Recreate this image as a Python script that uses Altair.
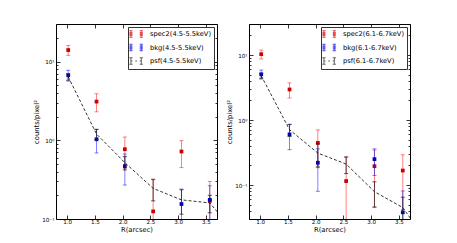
import altair as alt
import pandas as pd

# ---------------- data ----------------
X = [1.02, 1.53, 2.04, 2.55, 3.06, 3.57]
X_PSF = [1.02, 1.53, 2.04, 2.55, 3.06, 3.57, 4.08]
X_TICKS = [1.0, 1.5, 2.0, 2.5, 3.0, 3.5]

L_BAND = "4.5-5.5keV"
L_SPEC2 = [14.0, 3.1, 0.77, 0.125, 0.72, 0.17]
L_SPEC2_ERR = [2.0, 0.8, 0.33, 0.19, 0.27, 0.13]
L_BKG = [6.7, 1.03, 0.47, None, 0.155, 0.175]
L_BKG_ERR = [1.05, 0.34, 0.2, None, 0.085, 0.09]
L_PSF = [6.4, 1.2, 0.52, 0.245, 0.175, 0.16, 0.06]
L_PSF_ERR = [0.6, 0.18, 0.1, 0.075, 0.06, 0.04, 0.02]
L_YDOMAIN = [0.1, 30]

R_BAND = "6.1-6.7keV"
R_SPEC2 = [10.3, 2.95, 0.445, 0.115, 0.195, 0.167]
R_SPEC2_ERR = [1.6, 0.77, 0.26, 0.155, 0.15, 0.125]
R_BKG = [5.06, 0.6, 0.22, None, 0.25, 0.038]
R_BKG_ERR = [0.8, 0.25, 0.14, None, 0.11, 0.043]
R_PSF = [4.8, 0.71, 0.31, 0.21, 0.079, 0.045, 0.011]
R_PSF_ERR = [0.4, 0.15, 0.12, 0.06, 0.033, 0.02, 0.005]
R_YDOMAIN = [0.03, 30]

X_DOMAIN = [0.8, 3.7]
FONT = "DejaVu Sans"


def frame(xs, vals, errs):
    rows = []
    for x, v, e in zip(xs, vals, errs):
        if v is None:
            continue
        rows.append({"x": x, "v": v, "lo": max(v - e, 1e-4), "hi": v + e})
    return pd.DataFrame(rows)


def caps(df):
    return pd.DataFrame(
        [{"x": r.x, "c": r.lo} for r in df.itertuples()]
        + [{"x": r.x, "c": r.hi} for r in df.itertuples()]
    )


def bar_path(c, marker=True):
    p = (f"M{c:.2f},-0.72L{c:.2f},0.72"
         f"M{c-0.36:.2f},-0.72L{c+0.36:.2f},-0.72"
         f"M{c-0.36:.2f},0.72L{c+0.36:.2f},0.72")
    if marker:
        for yy in (-0.33, -0.11, 0.11, 0.33):
            p += f"M{c-0.33:.2f},{yy}L{c+0.33:.2f},{yy}"
    return p


P_BAR = bar_path(-0.9) + bar_path(1.4)
P_PSF = (bar_path(-0.9, False) + bar_path(1.4, False)
         + "M-0.9,0L-0.55,0M0.05,0L0.45,0M1.05,0L1.4,0")


def panel(band, spec2, spec2e, bkg, bkge, psf, psfe, ydom):
    xs = alt.Scale(domain=X_DOMAIN, nice=False, zero=False)
    ys = alt.Scale(type="log", domain=ydom, nice=False)
    major = [0.1, 1, 10]
    minor = [round(m * 10 ** k, 4) for k in (-2, -1, 0, 1) for m in range(2, 10)
             if ydom[0] <= m * 10 ** k <= ydom[1]]

    x_main = alt.Axis(orient="bottom", values=X_TICKS, format=".1f", offset=-4, tickSize=4,
                      domain=False, grid=False, labelPadding=0.5, labelFontSize=5.6,
                      title="R(arcsec)", titleFontSize=6.8, titlePadding=1.5)
    y_main = alt.Axis(orient="left", values=major, offset=-4, tickSize=4, domain=False,
                      grid=False, labelPadding=2, labelFontSize=5.6,
                      labelExpr="datum.value >= 5 ? '10¹' : datum.value >= 0.5 ? '10⁰' : '10⁻¹'",
                      title="counts/pixel²", titleFontSize=6.8, titlePadding=2.5,
                      minExtent=18, maxExtent=18)
    x_top = alt.Axis(orient="top", values=X_TICKS, offset=-4, tickSize=4, domain=False,
                     grid=False, labels=False, title=None)
    y_right = alt.Axis(orient="right", values=major, offset=-4, tickSize=4, domain=False,
                       grid=False, labels=False, title=None)
    y_left_minor = alt.Axis(orient="left", values=minor, offset=-2, tickSize=2, domain=False,
                            grid=False, labels=False, title=None)
    y_right_minor = alt.Axis(orient="right", values=minor, offset=-2, tickSize=2, domain=False,
                             grid=False, labels=False, title=None)

    d_s = frame(X, spec2, spec2e)
    d_b = frame(X, bkg, bkge)
    d_p = frame(X_PSF, psf, psfe)

    def bars(df, color, op, xax, yax):
        return alt.Chart(df).mark_rule(color=color, opacity=op, strokeWidth=1, clip=True).encode(
            x=alt.X("x:Q", scale=xs, axis=xax),
            y=alt.Y("lo:Q", scale=ys, axis=yax),
            y2="hi:Q",
        )

    def capmarks(df, color, op, xax=None, yax=None):
        return alt.Chart(caps(df)).mark_tick(color=color, opacity=op, orient="horizontal",
                                             size=4, thickness=1, clip=True).encode(
            x=alt.X("x:Q", scale=xs, axis=xax),
            y=alt.Y("c:Q", scale=ys, axis=yax),
        )

    def pts(df, color):
        return alt.Chart(df).mark_square(color=color, size=14, opacity=1, clip=True).encode(
            x=alt.X("x:Q", scale=xs, axis=None),
            y=alt.Y("v:Q", scale=ys, axis=None),
        )

    psf_line = alt.Chart(d_p).mark_line(color="black", strokeDash=[3, 2], strokeWidth=0.8,
                                        clip=True).encode(
        x=alt.X("x:Q", scale=xs, axis=None),
        y=alt.Y("v:Q", scale=ys, axis=None),
    )

    names = [f"spec2({band})", f"bkg({band})", f"psf({band})"]
    leg_df = pd.DataFrame({"s": names, "x": [0.0] * 3, "v": [1.0] * 3})
    leg = alt.Legend(orient="none", legendX=72, legendY=3, title=None, padding=2,
                     rowPadding=1.5, labelOffset=10, labelFontSize=6.7, labelFont=FONT,
                     labelColor="black", strokeColor="#333333", fillColor="white",
                     symbolStrokeWidth=1, symbolSize=81, labelLimit=300, cornerRadius=0)
    legend_layer = alt.Chart(leg_df).mark_point(filled=False, size=81, strokeWidth=1,
                                                clip=True).encode(
        x=alt.X("x:Q", scale=xs, axis=None),
        y=alt.Y("v:Q", scale=ys, axis=None),
        color=alt.Color("s:N", scale=alt.Scale(domain=names,
                                               range=["#dd0000", "#0000dd", "#222222"]),
                        legend=leg),
        shape=alt.Shape("s:N", scale=alt.Scale(domain=names, range=[P_BAR, P_BAR, P_PSF]),
                        legend=leg),
    )

    layers = [
        bars(d_s, "#ff0000", 0.5, x_main, y_main),
        capmarks(d_s, "#ff0000", 0.5, x_top, y_right),
        pts(d_s, "#cc0000"),
        bars(d_b, "#0000ff", 0.5, None, y_left_minor),
        capmarks(d_b, "#0000ff", 0.5, None, y_right_minor),
        pts(d_b, "#0000bb"),
        psf_line,
        bars(d_p, "#222222", 0.75, None, None),
        capmarks(d_p, "#222222", 0.75),
        legend_layer,
    ]
    return alt.layer(*layers).resolve_axis(x="independent", y="independent").properties(
        width=161, height=195)


left = panel(L_BAND, L_SPEC2, L_SPEC2_ERR, L_BKG, L_BKG_ERR, L_PSF, L_PSF_ERR, L_YDOMAIN)
right = panel(R_BAND, R_SPEC2, R_SPEC2_ERR, R_BKG, R_BKG_ERR, R_PSF, R_PSF_ERR, R_YDOMAIN)

chart = alt.hconcat(left, right, spacing=8).resolve_scale(
    color="independent", shape="independent"
).properties(
    padding={"left": 25, "top": 15, "right": 0, "bottom": 0},
    background="white",
).configure_axis(
    labelFont=FONT, titleFont=FONT, labelColor="black", titleColor="black",
    tickColor="black", tickWidth=0.8, titleFontWeight="normal",
).configure_view(stroke="black", strokeWidth=1)

chart.save("out.html", embed_options={"renderer": "svg", "actions": False})
